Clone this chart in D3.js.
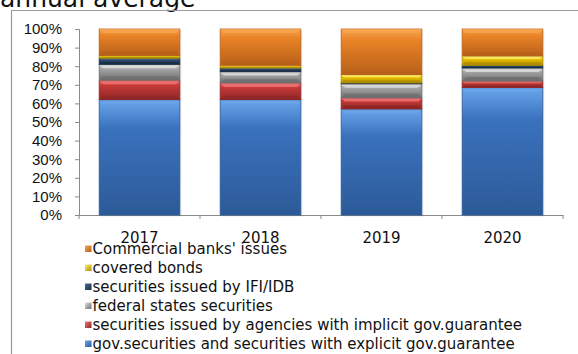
<!DOCTYPE html>
<html>
<head>
<meta charset="utf-8">
<script src="https://cdn.jsdelivr.net/npm/d3@7"></script>
<style>
  body { margin: 0; background: #fff; }
  svg { display: block; font-family: 'DejaVu Sans', Verdana, sans-serif; }
</style>
</head>
<body>
<div id="plot"></div>
<script>
// values, in % of annual average
const years = ['2017', '2018', '2019', '2020'];
const seriesNames = [
  'gov.securities and securities with explicit gov.guarantee',
  'securities issued by agencies with implicit gov.guarantee',
  'federal states securities',
  'securities issued by IFI/IDB',
  'covered bonds',
  "Commercial banks' issues"
];
const govExplicit = [62, 62, 57, 68.5];
const agenciesImplicit = [10.5, 9, 6, 3.5];
const federalStates = [8.5, 6, 7.5, 7];
const ifiIdb = [3.3, 2, 0.5, 1.5];
const coveredBonds = [1.5, 1.5, 4.5, 5];
const commercialBanks = [14.2, 19.5, 24.5, 14.5];
const yTicks = [0, 10, 20, 30, 40, 50, 60, 70, 80, 90, 100];

const colors = [
  ['#6aa6ec', '#3a72bd', '#2c5a98'],
  ['#f27474', '#c73a3a', '#8e2626'],
  ['#e0e0e0', '#a8a8a8', '#6e6e6e'],
  ['#4a6a90', '#2a4668', '#1a2e48'],
  ['#fff070', '#f0c800', '#b08c00'],
  ['#f7a450', '#e98326', '#b8601a']
];

const W = 578, H = 354;
const margin = { left: 79, top: 29, right: 15, bottom: 139 };
const width = W - margin.left - margin.right;
const height = H - margin.top - margin.bottom;

const svg = d3.select('#plot').append('svg').attr('width', W).attr('height', H);
const defs = svg.append('defs');
colors.forEach((c, i) => {
  const gr = defs.append('linearGradient').attr('id', 'g' + i).attr('x1', 0).attr('x2', 0).attr('y1', 0).attr('y2', 1);
  gr.append('stop').attr('offset', '0%').attr('stop-color', c[0]);
  gr.append('stop').attr('offset', '25%').attr('stop-color', c[1]);
  gr.append('stop').attr('offset', '100%').attr('stop-color', c[2]);
  const sg = defs.append('linearGradient').attr('id', 's' + i).attr('x1', 0).attr('x2', 1).attr('y1', 0).attr('y2', 1);
  sg.append('stop').attr('offset', '0%').attr('stop-color', c[0]);
  sg.append('stop').attr('offset', '100%').attr('stop-color', c[2]);
});

// title (cut off at the top)
svg.append('text').attr('x', 0).attr('y', 7).style('font-size', '25px').attr('fill', '#111').text('annual average');

// frame
svg.append('path').attr('d', `M11.5,${H}V10.5H${W}`).attr('fill', 'none').attr('stroke', '#9a9a9a').attr('stroke-width', 1.2);

const g = svg.append('g').attr('transform', `translate(${margin.left},${margin.top})`);

const x = d3.scaleBand().domain(years).range([0, width]).paddingInner(0.333).paddingOuter(0.1667);
const xAxisScale = d3.scaleBand().domain(years).range([0, width]);
const y = d3.scaleLinear().domain([0, 100]).range([height, 0]);

const rows = years.map((yr, i) => ({
  year: yr,
  s0: govExplicit[i], s1: agenciesImplicit[i], s2: federalStates[i],
  s3: ifiIdb[i], s4: coveredBonds[i], s5: commercialBanks[i]
}));
const stacked = d3.stack().keys(['s0', 's1', 's2', 's3', 's4', 's5'])(rows);

// axes
const yAxis = g.append('g').call(d3.axisLeft(y).tickValues(yTicks).tickSize(4).tickFormat(d => d + '%'));
yAxis.select('.domain').attr('stroke', '#8a8a8a');
yAxis.selectAll('line').attr('stroke', '#8a8a8a');
yAxis.selectAll('text').style('font-size', '15px').attr('fill', '#111').attr('x', -17);

const xAxis = g.append('g').attr('transform', `translate(0,${height})`)
  .call(d3.axisBottom(xAxisScale).tickSize(0).tickFormat(''));
xAxis.select('.domain').attr('stroke', '#8a8a8a');
xAxis.selectAll('.tick').remove();
xAxis.selectAll('.bnd').data(d3.range(years.length + 1)).enter().append('line')
  .attr('x1', i => i * xAxisScale.step()).attr('x2', i => i * xAxisScale.step())
  .attr('y1', 0).attr('y2', 4).attr('stroke', '#8a8a8a');

// bars
stacked.forEach((layer, si) => {
  const lg = g.append('g');
  layer.forEach((d, i) => {
    const x0 = x(years[i]);
    const bw = x.bandwidth();
    const yt = y(d[1]), yb = y(d[0]);
    const h = yb - yt;
    if (h <= 0) return;
    lg.append('rect').attr('x', x0 + 1.5).attr('y', yt + 1.5).attr('width', bw).attr('height', h)
      .attr('fill', '#000').attr('opacity', 0.08);
    lg.append('rect').attr('x', x0).attr('y', yt).attr('width', bw).attr('height', h)
      .attr('fill', `url(#g${si})`).attr('stroke', colors[si][2]).attr('stroke-width', 0.8);
    // bevel
    const b = Math.min(4, h / 3);
    lg.append('path').attr('d', `M${x0},${yt}H${x0 + bw}L${x0 + bw - b},${yt + b}H${x0 + b}Z`).attr('fill', colors[si][0]).attr('opacity', 0.8);
    lg.append('path').attr('d', `M${x0},${yb}H${x0 + bw}L${x0 + bw - b},${yb - b}H${x0 + b}Z`).attr('fill', colors[si][2]).attr('opacity', 0.8);
  });
});

// x labels
g.selectAll('.xl').data(years).enter().append('text')
  .attr('x', d => xAxisScale(d) + xAxisScale.bandwidth() / 2).attr('y', height + 28)
  .attr('text-anchor', 'middle').style('font-size', '15px').attr('fill', '#111').text(d => d);

// legend (top entry is the top of the stack)
const legend = svg.append('g').attr('transform', 'translate(85,249)');
seriesNames.slice().reverse().forEach((name, k) => {
  const si = seriesNames.length - 1 - k;
  const row = legend.append('g').attr('transform', `translate(0,${k * 19})`);
  row.append('rect').attr('x', 0).attr('y', -3.5).attr('width', 6.5).attr('height', 6.5)
    .attr('fill', `url(#s${si})`);
  row.append('text').attr('x', 7.5).attr('y', 0).attr('dy', '0.36em')
    .style('font-size', '15px').attr('fill', '#111').text(name);
});
</script>
</body>
</html>
